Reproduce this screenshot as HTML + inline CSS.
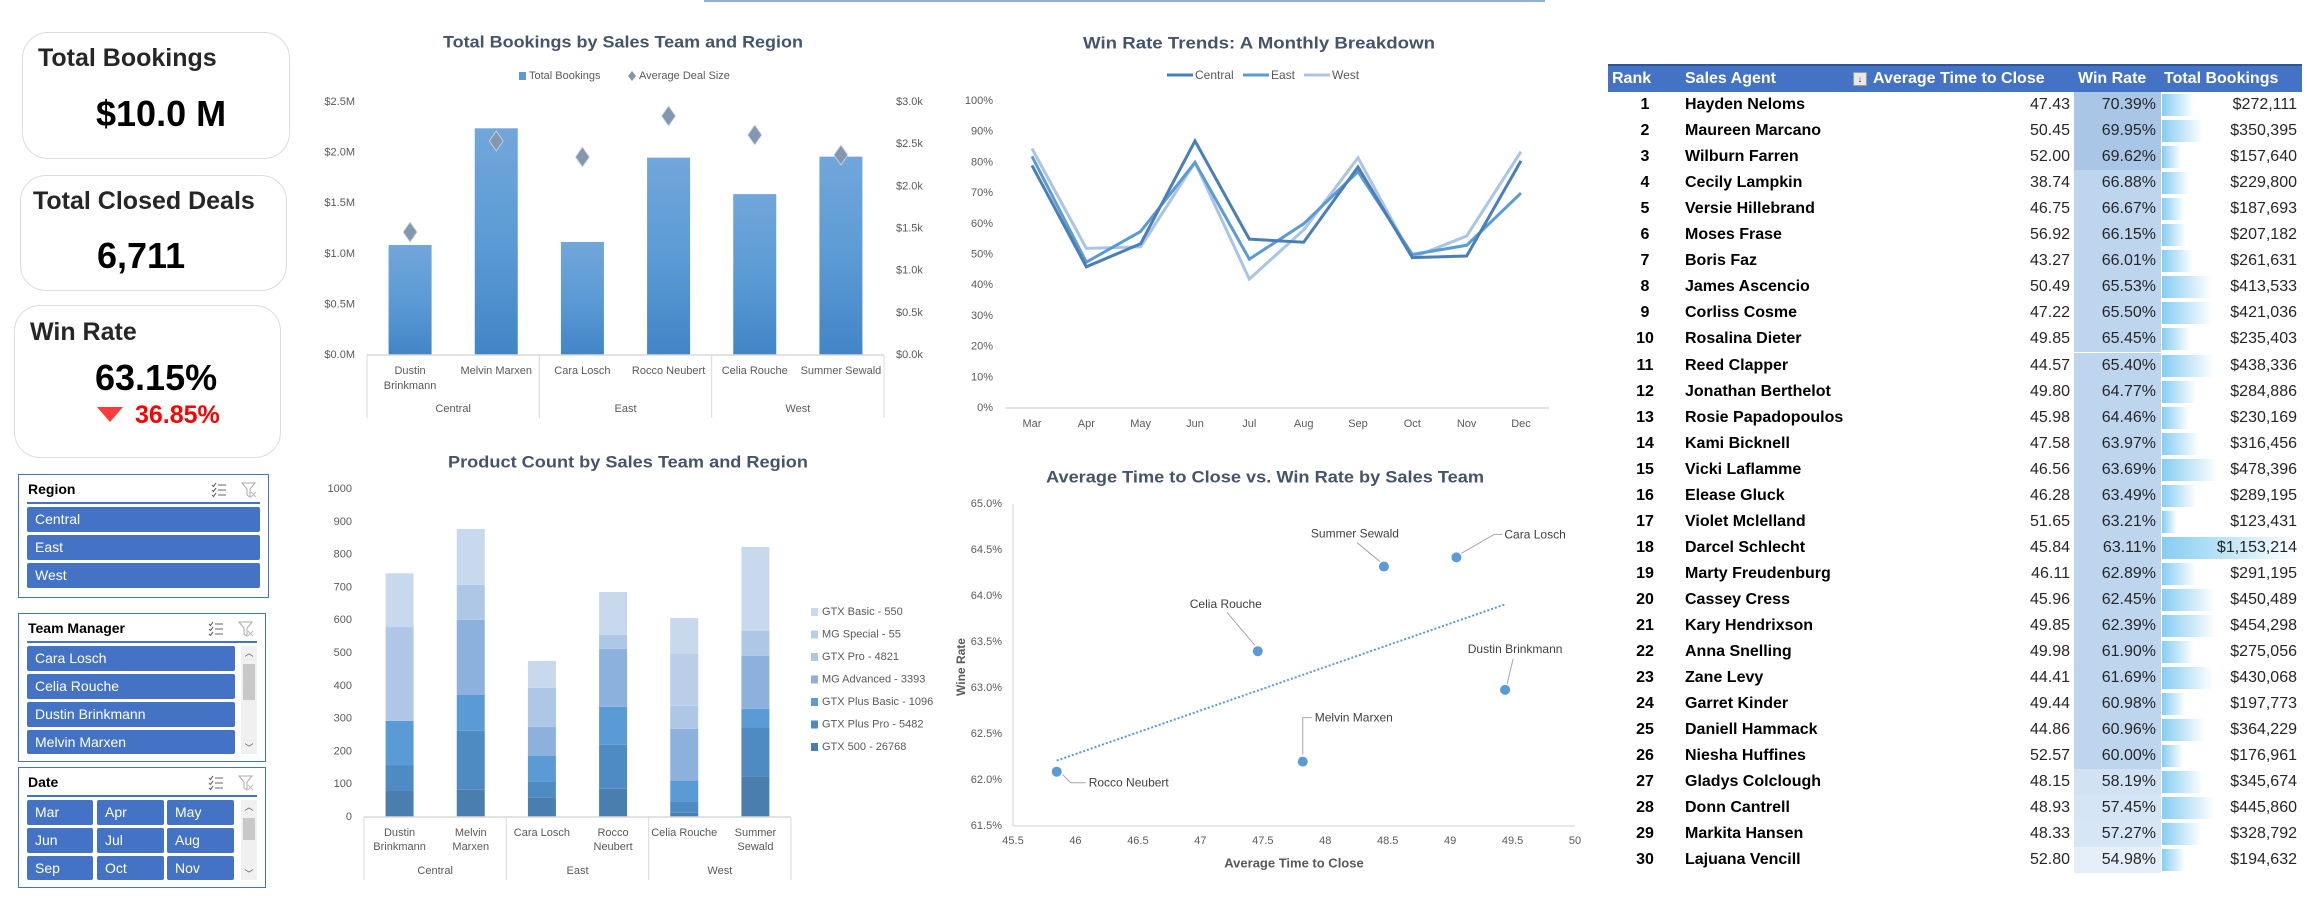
<!DOCTYPE html>
<html><head><meta charset="utf-8">
<style>
*{box-sizing:border-box;margin:0;padding:0}
body{width:2324px;height:912px;background:#fff;position:relative;overflow:hidden;font-family:"Liberation Sans",sans-serif;color:#000}
.abs{position:absolute}
.card{position:absolute;border:1.5px solid #dcdcdc;border-radius:26px;background:#fff}
.card .t{position:absolute;font-weight:bold;font-size:25px;color:#262626;white-space:nowrap}
.card .v{position:absolute;font-weight:bold;font-size:36px;color:#000;white-space:nowrap}
.slicer{position:absolute;border:1.5px solid #4472c4;background:#fff}
.slicer .st{position:absolute;left:9px;top:6px;font-size:14px;font-weight:bold;color:#000}
.slicer .ul{position:absolute;left:8px;height:2px;background:#4472c4}
.btn{position:absolute;background:#4472c4;color:#fff;font-size:14px;line-height:24px;padding-left:8px;border-radius:2px;white-space:nowrap}
.sb{position:absolute;background:#f0f0f0;width:16px}
.sb .th{position:absolute;left:2px;width:12px;background:#c8c8c8}
.sb .ar{position:absolute;left:0;width:16px;text-align:center;font-size:9px;color:#555}
.icon{position:absolute;width:16px;height:16px}
#tbl{position:absolute;left:1608px;top:64px;width:694px}
.hdr{position:absolute;left:0;top:0;width:694px;height:28px;background:#4472c4;border-top:2px solid #2f5597;color:#fff;font-weight:bold;font-size:16px}
.hdr span{position:absolute;top:4px;white-space:nowrap}
.row{position:absolute;left:0;width:694px;height:26px;font-size:16px}
.row span{position:absolute;top:4px;white-space:nowrap}
</style></head>
<body>
<div class="abs" style="left:704px;top:0;width:841px;height:2px;background:#8eb0d8"></div>

<div class="card" style="left:22px;top:32px;width:268px;height:127px">
 <div class="t" style="left:15px;top:11px">Total Bookings</div>
 <div class="v" style="left:73px;top:60px">$10.0 M</div>
</div>
<div class="card" style="left:20px;top:175px;width:267px;height:116px">
 <div class="t" style="left:12px;top:11px">Total Closed Deals</div>
 <div class="v" style="left:76px;top:59px">6,711</div>
</div>
<div class="card" style="left:14px;top:305px;width:267px;height:153px">
 <div class="t" style="left:15px;top:12px">Win Rate</div>
 <div class="v" style="left:80px;top:51px">63.15%</div>
 <svg class="abs" style="left:82px;top:101px" width="26" height="15"><polygon points="0,0 26,0 13,15" fill="#ff3b3b"/></svg>
 <div class="abs" style="left:120px;top:95px;font-size:25px;font-weight:bold;color:#ff0000">36.85%</div>
</div>

<!-- Slicers -->
<div class="slicer" style="left:18px;top:474px;width:251px;height:124px">
 <div class="st">Region</div>
 <svg class="icon" style="left:192px;top:7px" viewBox="0 0 16 16"><path d="M1 3l1.5 1.5L5 1M1 8l1.5 1.5L5 6M1 13l1.5 1.5L5 11M7 3h8M7 8h8M7 13h8" stroke="#666" fill="none" stroke-width="1.1"/></svg>
 <svg class="icon" style="left:222px;top:7px" viewBox="0 0 16 16"><path d="M1 1h13l-5 6v8l-3-2V7z" stroke="#aaa" fill="none"/><path d="M10 10l5 5M15 10l-5 5" stroke="#bbb"/></svg>
 <div class="ul" style="top:27px;width:233px"></div>
 <div class="btn" style="left:8px;top:32px;width:233px;height:25px">Central</div>
 <div class="btn" style="left:8px;top:60px;width:233px;height:25px">East</div>
 <div class="btn" style="left:8px;top:88px;width:233px;height:25px">West</div>
</div>

<div class="slicer" style="left:18px;top:613px;width:248px;height:149px">
 <div class="st">Team Manager</div>
 <svg class="icon" style="left:189px;top:7px" viewBox="0 0 16 16"><path d="M1 3l1.5 1.5L5 1M1 8l1.5 1.5L5 6M1 13l1.5 1.5L5 11M7 3h8M7 8h8M7 13h8" stroke="#666" fill="none" stroke-width="1.1"/></svg>
 <svg class="icon" style="left:219px;top:7px" viewBox="0 0 16 16"><path d="M1 1h13l-5 6v8l-3-2V7z" stroke="#aaa" fill="none"/><path d="M10 10l5 5M15 10l-5 5" stroke="#bbb"/></svg>
 <div class="ul" style="top:27px;width:230px"></div>
 <div class="btn" style="left:8px;top:32px;width:208px;height:25px">Cara Losch</div>
 <div class="btn" style="left:8px;top:60px;width:208px;height:25px">Celia Rouche</div>
 <div class="btn" style="left:8px;top:88px;width:208px;height:25px">Dustin Brinkmann</div>
 <div class="btn" style="left:8px;top:116px;width:208px;height:24px">Melvin Marxen</div>
 <div class="sb" style="left:222px;top:32px;height:108px"><div class="ar" style="top:0">︿</div><div class="th" style="top:18px;height:36px"></div><div class="ar" style="bottom:0">﹀</div></div>
</div>

<div class="slicer" style="left:18px;top:767px;width:248px;height:121px">
 <div class="st">Date</div>
 <svg class="icon" style="left:189px;top:7px" viewBox="0 0 16 16"><path d="M1 3l1.5 1.5L5 1M1 8l1.5 1.5L5 6M1 13l1.5 1.5L5 11M7 3h8M7 8h8M7 13h8" stroke="#666" fill="none" stroke-width="1.1"/></svg>
 <svg class="icon" style="left:219px;top:7px" viewBox="0 0 16 16"><path d="M1 1h13l-5 6v8l-3-2V7z" stroke="#aaa" fill="none"/><path d="M10 10l5 5M15 10l-5 5" stroke="#bbb"/></svg>
 <div class="ul" style="top:27px;width:230px"></div>
 <div class="btn" style="left:8px;top:32px;width:66px;height:25px">Mar</div>
 <div class="btn" style="left:78px;top:32px;width:67px;height:25px">Apr</div>
 <div class="btn" style="left:148px;top:32px;width:67px;height:25px">May</div>
 <div class="btn" style="left:8px;top:60px;width:66px;height:25px">Jun</div>
 <div class="btn" style="left:78px;top:60px;width:67px;height:25px">Jul</div>
 <div class="btn" style="left:148px;top:60px;width:67px;height:25px">Aug</div>
 <div class="btn" style="left:8px;top:88px;width:66px;height:24px">Sep</div>
 <div class="btn" style="left:78px;top:88px;width:67px;height:24px">Oct</div>
 <div class="btn" style="left:148px;top:88px;width:67px;height:24px">Nov</div>
 <div class="sb" style="left:222px;top:32px;height:80px"><div class="ar" style="top:0">︿</div><div class="th" style="top:18px;height:22px"></div><div class="ar" style="bottom:0">﹀</div></div>
</div>

<svg id="charts" class="abs" style="left:0;top:0" width="2324" height="912" font-family="Liberation Sans, sans-serif">
 <defs>
  <linearGradient id="barGrad" x1="0" y1="0" x2="0" y2="1">
   <stop offset="0" stop-color="#72a6da"/><stop offset="0.5" stop-color="#5b9bd5"/><stop offset="1" stop-color="#4285c6"/>
  </linearGradient>
 </defs>
</svg>

<div id="tbl">
 <div class="hdr">
  <span style="left:4px">Rank</span>
  <span style="left:77px">Sales Agent</span>
  <span style="left:245px;top:6px;width:14px;height:14px;background:#e8e8e8;border:1px solid #999;font-size:9px;color:#333;text-align:center;line-height:12px">↓</span>
  <span style="left:265px">Average Time to Close</span>
  <span style="left:470px">Win Rate</span>
  <span style="left:556px">Total Bookings</span>
 </div>
</div>

<script>
// ===== Bookings chart data =====
const bkCategories = ['Dustin Brinkmann','Melvin Marxen','Cara Losch','Rocco Neubert','Celia Rouche','Summer Sewald'];
const bkBookingsM = [1.087, 2.24, 1.117, 1.95, 1.59, 1.96];
const bkDealSize = [1458, 2538, 2348, 2834, 2609, 2372];
const bkLeftTicks = [0, 0.5, 1.0, 1.5, 2.0, 2.5];
const bkRightTicks = [0, 500, 1000, 1500, 2000, 2500, 3000];
const regions = ['Central','East','West'];
// ===== Win rate trend data =====
const months = ['Mar','Apr','May','Jun','Jul','Aug','Sep','Oct','Nov','Dec'];
const wrCentral = [79, 46, 53.5, 87, 55, 54, 78.5, 49, 49.5, 80.5];
const wrEast = [82, 47.5, 57.5, 80, 48.5, 60, 77, 50, 53, 70];
const wrWest = [84.5, 52, 52.5, 80, 42, 58, 81.5, 49, 56, 83.5];
const wrTicks = [0,10,20,30,40,50,60,70,80,90,100];
// ===== Product count data (per manager) =====
const prodNames = ['GTX 500 - 26768','GTX Plus Pro - 5482','GTX Plus Basic - 1096','MG Advanced - 3393','GTX Pro - 4821','MG Special - 55','GTX Basic - 550'];
const pGTX500 = [81, 83, 60, 86, 13, 124];
const pGTXPlusPro = [76, 180, 48, 134, 34, 149];
const pGTXPlusBasic = [136, 110, 79, 116, 64, 57];
const pMGAdvanced = [0, 228, 88, 177, 158, 161];
const pGTXPro = [286, 107, 119, 42, 70, 76];
const pMGSpecial = [0, 0, 0, 0, 158, 0];
const pGTXBasic = [164, 170, 82, 131, 110, 256];
const prodTicks = [0,100,200,300,400,500,600,700,800,900,1000];
// ===== Scatter data =====
const scNames = ['Rocco Neubert','Melvin Marxen','Celia Rouche','Summer Sewald','Cara Losch','Dustin Brinkmann'];
const scTime = [45.85, 47.82, 47.46, 48.47, 49.05, 49.44];
const scWin = [62.09, 62.20, 63.40, 64.32, 64.42, 62.98];
const scXTicks = [45.5,46,46.5,47,47.5,48,48.5,49,49.5,50];
const scYTicks = [61.5,62.0,62.5,63.0,63.5,64.0,64.5,65.0];
// ===== Table data =====
const tAgents = ['Hayden Neloms','Maureen Marcano','Wilburn Farren','Cecily Lampkin','Versie Hillebrand','Moses Frase','Boris Faz','James Ascencio','Corliss Cosme','Rosalina Dieter','Reed Clapper','Jonathan Berthelot','Rosie Papadopoulos','Kami Bicknell','Vicki Laflamme','Elease Gluck','Violet Mclelland','Darcel Schlecht','Marty Freudenburg','Cassey Cress','Kary Hendrixson','Anna Snelling','Zane Levy','Garret Kinder','Daniell Hammack','Niesha Huffines','Gladys Colclough','Donn Cantrell','Markita Hansen','Lajuana Vencill'];
const tAvgTime = [47.43,50.45,52.00,38.74,46.75,56.92,43.27,50.49,47.22,49.85,44.57,49.80,45.98,47.58,46.56,46.28,51.65,45.84,46.11,45.96,49.85,49.98,44.41,49.44,44.86,52.57,48.15,48.93,48.33,52.80];
const tWinRate = [70.39,69.95,69.62,66.88,66.67,66.15,66.01,65.53,65.50,65.45,65.40,64.77,64.46,63.97,63.69,63.49,63.21,63.11,62.89,62.45,62.39,61.90,61.69,60.98,60.96,60.00,58.19,57.45,57.27,54.98];
const tBookings = [272111,350395,157640,229800,187693,207182,261631,413533,421036,235403,438336,284886,230169,316456,478396,289195,123431,1153214,291195,450489,454298,275056,430068,197773,364229,176961,345674,445860,328792,194632];

const NS = 'http://www.w3.org/2000/svg';
const svg = document.getElementById('charts');
function mk(tag, attrs, parent){
  const e = document.createElementNS(NS, tag);
  for (const k in attrs) e.setAttribute(k, attrs[k]);
  (parent || svg).appendChild(e);
  return e;
}
function txt(x, y, s, size, anchor, fill, weight, parent){
  const t = mk('text', {x:x, y:y, 'font-size':size, 'text-anchor':anchor||'start', fill:fill||'#595959', 'font-weight':weight||'normal', 'dominant-baseline':'central'}, parent);
  t.textContent = s;
  return t;
}
function grp(){ return mk('g', {}); }

// ---------- Chart 1: Total Bookings ----------
(function(){
  const g = grp();
  
  
  const x0 = 367, x1 = 884, yb = 355, ph = 253;
  const cw = (x1 - x0) / bkCategories.length;
  const xC = i => x0 + cw * (i + 0.5);
  const yL = v => yb - v / 2.5 * ph;
  const yR = v => yb - v / 3000 * ph;
  const t = txt(623, 42, 'Total Bookings by Sales Team and Region', 17, 'middle', '#44546a', 'bold', g);
  t.setAttribute('textLength', 360);
  t.setAttribute('lengthAdjust', 'spacingAndGlyphs');
  
  
  const lg = mk('g', {}, g);
  
  
  mk('rect', {x:519, y:72, width:7, height:8, fill:'#5b9bd5'}, lg);
  txt(529, 76, 'Total Bookings', 11, 'start', '#595959', 'normal', lg);
  mk('polygon', {points:'632,71 636,76 632,81 628,76', fill:'#8497b0'}, lg);
  txt(639, 76, 'Average Deal Size', 11, 'start', '#595959', 'normal', lg);
  bkLeftTicks.forEach(v => {
    const l = txt(355, yL(v), '$' + v.toFixed(1) + 'M', 11, 'end', '#595959', 'normal', g);
    
    
  });
  bkRightTicks.forEach(v => {
    const l = txt(896, yR(v), '$' + (v/1000).toFixed(1) + 'k', 11, 'start', '#595959', 'normal', g);
    
    
  });
  bkBookingsM.forEach((v, i) => {
    const r = mk('rect', {x:xC(i) - 21.5, y:yL(v), width:43, height:yb - yL(v), fill:'url(#barGrad)'}, g);
    
    
  });
  bkDealSize.forEach((v, i) => {
    const cx = xC(i), cy = yR(v);
    const d = mk('polygon', {points:`${cx},${cy-10} ${cx+7},${cy} ${cx},${cy+10} ${cx-7},${cy}`, fill:'#8497b0', stroke:'#d0d8e4', 'stroke-width':0.8}, g);
    
    
  });
  mk('line', {x1:x0, y1:yb, x2:x1, y2:yb, stroke:'#d9d9d9', 'stroke-width':1.5}, g);
  for (let k = 0; k <= 3; k++) {
    const xx = x0 + cw * 2 * k;
    mk('line', {x1:xx, y1:yb, x2:xx, y2:418, stroke:'#d9d9d9', 'stroke-width':1}, g);
  }
  bkCategories.forEach((c, i) => {
    const parts = (i === 0) ? ['Dustin', 'Brinkmann'] : [c];
    parts.forEach((p, j) => {
      const l = txt(xC(i), 371 + j * 15, p, 11, 'middle', '#595959', 'normal', g);
      
      
    });
  });
  regions.forEach((r, k) => {
    const l = txt(x0 + cw * (2 * k + 1), 409, r, 11, 'middle', '#595959', 'normal', g);
    
    
  });
})();

// ---------- Chart 2: Win rate trends ----------
(function(){
  const g = grp();
  
  
  const xM = i => 1032 + 54.33 * i;
  const yP = p => 408 - p * 3.07;
  const t = txt(1259, 43, 'Win Rate Trends: A Monthly Breakdown', 17, 'middle', '#44546a', 'bold', g);
  t.setAttribute('textLength', 352);
  t.setAttribute('lengthAdjust', 'spacingAndGlyphs');
  
  
  wrTicks.forEach(v => {
    const l = txt(993, yP(v), v + '%', 11, 'end', '#595959', 'normal', g);
    
    
  });
  mk('line', {x1:1005, y1:408, x2:1549, y2:408, stroke:'#d9d9d9', 'stroke-width':1.5}, g);
  months.forEach((m, i) => {
    const l = txt(xM(i), 424, m, 11, 'middle', '#595959', 'normal', g);
    
    
  });
  const series = [[wrWest, '#a9c4e6', 'West'], [wrEast, '#5b9bd5', 'East'], [wrCentral, '#4a7fb5', 'Central']];
  series.forEach(([arr, col, nm]) => {
    const pts = arr.map((v, i) => xM(i) + ',' + yP(v)).join(' ');
    const pl = mk('polyline', {points:pts, fill:'none', stroke:col, 'stroke-width':3, 'stroke-linejoin':'miter'}, g);
    
    
  });
  const lg = mk('g', {}, g);
  
  
  [[1167, '#4a7fb5', 'Central'], [1243, '#5b9bd5', 'East'], [1304, '#a9c4e6', 'West']].forEach(([x, c, n]) => {
    mk('line', {x1:x, y1:75, x2:x + 26, y2:75, stroke:c, 'stroke-width':3}, lg);
    txt(x + 28, 75, n, 12, 'start', '#595959', 'normal', lg);
  });
})();

// ---------- Chart 3: Product count ----------
(function(){
  const g = grp();
  
  
  const x0 = 364, x1 = 791, yb = 817;
  const cw = (x1 - x0) / bkCategories.length;
  const xC = i => x0 + cw * (i + 0.5);
  const yV = v => yb - v * 0.328;
  const t = txt(628, 462, 'Product Count by Sales Team and Region', 17, 'middle', '#44546a', 'bold', g);
  t.setAttribute('textLength', 360);
  t.setAttribute('lengthAdjust', 'spacingAndGlyphs');
  
  
  prodTicks.forEach(v => {
    const l = txt(352, yV(v), String(v), 11, 'end', '#595959', 'normal', g);
    
    
  });
  const stack = [pGTX500, pGTXPlusPro, pGTXPlusBasic, pMGAdvanced, pGTXPro, pMGSpecial, pGTXBasic];
  const cols = ['#4a7eae', '#4f8bc3', '#5b9bd5', '#8db1dd', '#aec7e6', '#b9cfe9', '#c8d9ee'];
  bkCategories.forEach((c, i) => {
    let acc = 0;
    stack.forEach((arr, s) => {
      const v = arr[i];
      if (v <= 0) return;
      const r = mk('rect', {x:xC(i) - 14, y:yV(acc + v), width:28, height:yV(acc) - yV(acc + v), fill:cols[s]}, g);
      
      
      acc += v;
    });
  });
  mk('line', {x1:x0, y1:yb, x2:x1, y2:yb, stroke:'#d9d9d9', 'stroke-width':1.5}, g);
  for (let k = 0; k <= 3; k++) {
    const xx = x0 + cw * 2 * k;
    mk('line', {x1:xx, y1:yb, x2:xx, y2:880, stroke:'#d9d9d9', 'stroke-width':1}, g);
  }
  bkCategories.forEach((c, i) => {
    const parts = (i === 2 || i === 4) ? [c] : c.split(' ');
    parts.forEach((p, j) => {
      const l = txt(xC(i), 833 + j * 14, p, 11, 'middle', '#595959', 'normal', g);
      
      
    });
  });
  regions.forEach((r, k) => {
    const l = txt(x0 + cw * (2 * k + 1), 871, r, 11, 'middle', '#595959', 'normal', g);
    
    
  });
  const lg = mk('g', {}, g);
  
  
  for (let s = 6; s >= 0; s--) {
    const yy = 612 + (6 - s) * 22.5;
    mk('rect', {x:811, y:yy - 4, width:7, height:8, fill:cols[s]}, lg);
    txt(822, yy, prodNames[s], 11, 'start', '#595959', 'normal', lg);
  }
})();

// ---------- Chart 4: Scatter ----------
const scLabelLayout = [
  {dx:32, dy:11, a:'start', lead:[[6,3],[14,11],[29,11]]},
  {dx:12, dy:-44, a:'start', lead:[[0,-7],[0,-44],[9,-44]]},
  {dx:-32, dy:-47, a:'middle', lead:[[-3,-6],[-31,-39]]},
  {dx:-29, dy:-33, a:'middle', lead:[[-4,-5],[-27,-24]]},
  {dx:48, dy:-23, a:'start', lead:[[5,-4],[38,-23],[46,-23]]},
  {dx:10, dy:-41, a:'middle', lead:[[2,-6],[8,-31]]}
];
(function(){
  const g = grp();
  
  
  const xT = v => 1013 + (v - 45.5) * 124.9;
  const yW = v => 504 + (65 - v) * 92;
  const t = txt(1265, 477, 'Average Time to Close vs. Win Rate by Sales Team', 17, 'middle', '#44546a', 'bold', g);
  t.setAttribute('textLength', 438);
  t.setAttribute('lengthAdjust', 'spacingAndGlyphs');
  
  
  mk('line', {x1:1013, y1:504, x2:1013, y2:826, stroke:'#d9d9d9', 'stroke-width':1.2}, g);
  mk('line', {x1:1013, y1:826, x2:1575, y2:826, stroke:'#d9d9d9', 'stroke-width':1.2}, g);
  scYTicks.forEach(v => {
    const l = txt(1002, yW(v), v.toFixed(1) + '%', 11, 'end', '#595959', 'normal', g);
    
    
  });
  scXTicks.forEach(v => {
    const l = txt(xT(v), 841, String(v), 11, 'middle', '#595959', 'normal', g);
    
    
  });
  const xt = txt(1294, 863, 'Average Time to Close', 13, 'middle', '#595959', 'bold', g);
  
  
  const yt = txt(0, 0, 'Wine Rate', 12, 'middle', '#595959', 'bold', g);
  yt.setAttribute('transform', 'translate(961,667) rotate(-90)');
  
  
  const n = scTime.length;
  const mx = scTime.reduce((a, b) => a + b) / n, my = scWin.reduce((a, b) => a + b) / n;
  let sxy = 0, sxx = 0;
  for (let i = 0; i < n; i++) { sxy += (scTime[i] - mx) * (scWin[i] - my); sxx += (scTime[i] - mx) ** 2; }
  const slope = sxy / sxx, icp = my - slope * mx;
  const tmin = Math.min(...scTime), tmax = Math.max(...scTime);
  const tl = mk('line', {x1:xT(tmin), y1:yW(icp + slope * tmin), x2:xT(tmax), y2:yW(icp + slope * tmax), stroke:'#5b9bd5', 'stroke-width':2, 'stroke-dasharray':'2 2'}, g);
  
  
  scNames.forEach((nm, i) => {
    const px = xT(scTime[i]), py = yW(scWin[i]);
    const L = scLabelLayout[i];
    const pts = [[px, py]].concat(L.lead.map(([a, b]) => [px + a, py + b]));
    mk('polyline', {points:pts.slice(1).map(p => p.join(',')).join(' '), fill:'none', stroke:'#a6a6a6', 'stroke-width':1}, g);
    const c = mk('circle', {cx:px, cy:py, r:5, fill:'#5b9bd5'}, g);
    
    
    const l = txt(px + L.dx, py + L.dy, nm, 12, L.a, '#404040', 'normal', g);
    
    
  });
})();

// ---------- Table ----------
(function(){
  const tbl = document.getElementById('tbl');
  const maxB = Math.max(...tBookings);
  function wrColor(v){
    if (v >= 69) return '#a9c6e6';
    if (v >= 60) return '#bdd6ee';
    const t = Math.max(0, Math.min(1, (58.5 - v) / 3.5));
    const a = [0xcf, 0xe1, 0xf3], b = [0xe4, 0xef, 0xf9];
    return 'rgb(' + a.map((c, k) => Math.round(c + (b[k] - c) * t)).join(',') + ')';
  }
  tAgents.forEach((nm, i) => {
    const r = document.createElement('div');
    r.className = 'row';
    r.style.top = (28 + i * 26.05) + 'px';
    
    
    const bw = tBookings[i] / maxB * 136;
    r.innerHTML =
      '<span style="left:18px;width:38px;text-align:center;font-weight:bold">' + (i + 1) + '</span>' +
      '<span style="left:77px;font-weight:bold">' + nm + '</span>' +
      '<span style="right:232px;color:#262626">' + tAvgTime[i].toFixed(2) + '</span>' +
      '<div style="position:absolute;left:466px;top:0;width:87px;height:26px;background:' + wrColor(tWinRate[i]) + '"></div>' +
      '<span style="right:146px;color:#262626">' + tWinRate[i].toFixed(2) + '%</span>' +
      '<div style="position:absolute;left:554px;top:2px;width:' + bw + 'px;height:22px;background:linear-gradient(90deg,#86cdf1,#ffffff)"></div>' +
      '<span style="right:5px;color:#262626">$' + tBookings[i].toLocaleString('en-US') + '</span>';
    tbl.appendChild(r);
  });
})();
</script>
</body></html>
